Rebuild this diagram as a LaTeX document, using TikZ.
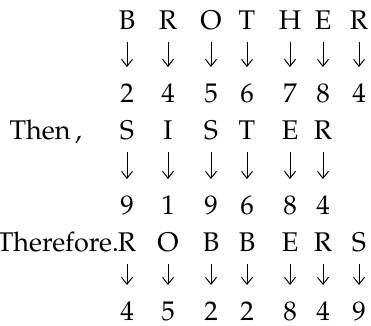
\documentclass[tikz,border=0pt]{standalone}
\usepackage[T1]{fontenc}
\usepackage{mathpazo}
\usepackage{tikz}
\usetikzlibrary{arrows.meta}

\begin{document}
\begin{tikzpicture}[x=1pt,y=-1pt,>={Straight Barb[length=7pt,width=11pt]},
  glyph/.style={inner sep=0pt,text height=18.5pt,text depth=0pt,font=\fontsize{27}{30}\selectfont},
  codeto/.style={->,line width=1pt,shorten <=12.5pt,shorten >=16.5pt}]
  \useasboundingbox (0,0) rectangle (371,325);
  % BROTHER
  \foreach \ch/\num/\x [count=\i] in {B/2/127,R/4/168,O/5/211,T/6/247,H/7/290,E/8/323,R/4/359} {
    \node[glyph] (bro\i) at (\x,20) {\ch};
    \node[glyph] (brocode\i) at (\x,93) {\num};
    \draw[codeto] (bro\i) -- (brocode\i);
  }
  % SISTER
  \node[glyph,anchor=east] (then) at (82,130) {Then\,,};
  \foreach \ch/\num/\x [count=\i] in {S/9/127,I/1/168,S/9/211,T/6/247,E/8/290,R/4/323} {
    \node[glyph] (sis\i) at (\x,130) {\ch};
    \node[glyph] (siscode\i) at (\x,205) {\num};
    \draw[codeto] (sis\i) -- (siscode\i);
  }
  % ROBBERS
  \node[glyph,anchor=east] (therefore) at (119,242) {Therefore.};
  \foreach \ch/\num/\x [count=\i] in {R/4/127,O/5/168,B/2/211,B/2/247,E/8/290,R/4/323,S/9/359} {
    \node[glyph] (rob\i) at (\x,242) {\ch};
    \node[glyph] (robcode\i) at (\x,311) {\num};
    \draw[codeto] (rob\i) -- (robcode\i);
  }
\end{tikzpicture}
\end{document}
